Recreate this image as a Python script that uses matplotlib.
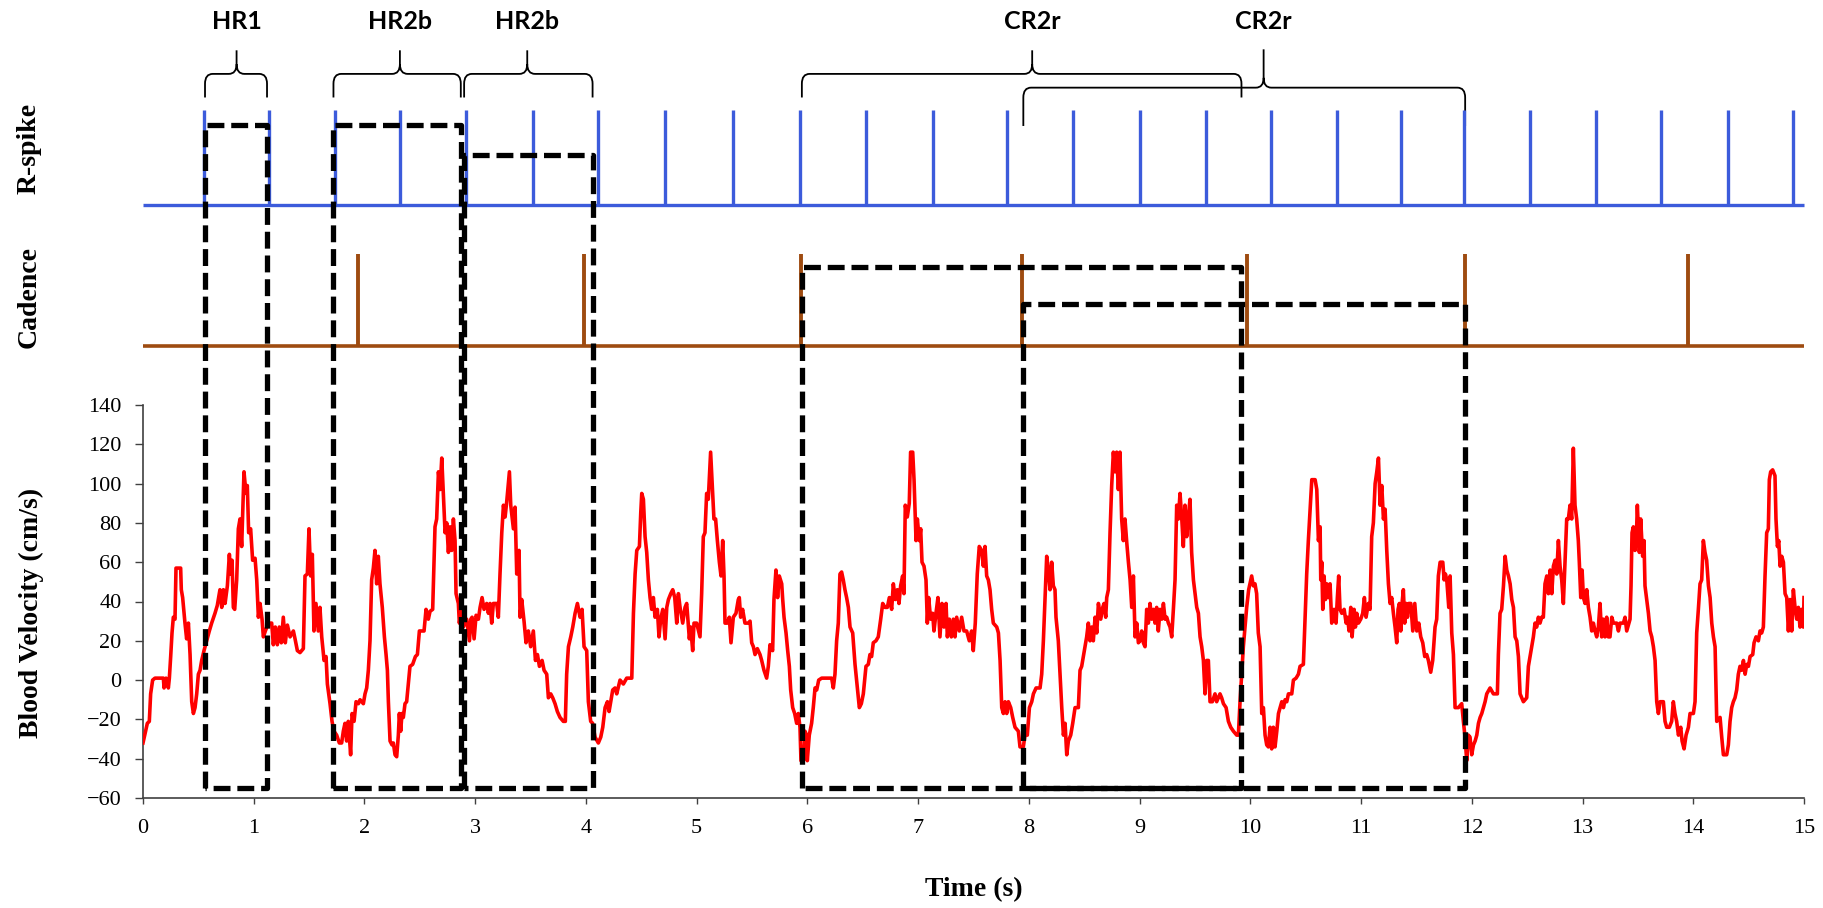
import matplotlib.pyplot as plt
from matplotlib.path import Path
from matplotlib.patches import PathPatch
import numpy as np

plt.rcParams['font.family'] = ['Liberation Serif', 'DejaVu Serif']

# blood velocity (cm/s), in six pieces
t_a = [0.000, 0.039, 0.057, 0.069, 0.087, 0.108, 0.184, 0.190, 0.208, 0.229, 0.238, 0.250, 0.262, 0.274, 0.289,
       0.298, 0.340, 0.346, 0.358, 0.379, 0.394, 0.410, 0.425, 0.440, 0.455, 0.470, 0.485, 0.500, 0.515, 0.530,
       0.551, 0.575, 0.599, 0.620, 0.650, 0.671, 0.695, 0.711, 0.726, 0.741, 0.762, 0.780, 0.792, 0.804, 0.816,
       0.828, 0.846, 0.861, 0.876, 0.891, 0.912, 0.930, 0.942, 0.954, 0.972, 0.990, 1.012, 1.027, 1.042, 1.057,
       1.075, 1.087, 1.105, 1.132, 1.162, 1.177, 1.195, 1.213, 1.231, 1.249, 1.267, 1.285, 1.304, 1.328, 1.358,
       1.373, 1.394, 1.418, 1.448, 1.463, 1.484, 1.499, 1.514, 1.529, 1.544, 1.562, 1.583, 1.598, 1.614, 1.635,
       1.653, 1.665, 1.689, 1.707, 1.725, 1.749, 1.773, 1.794, 1.809, 1.824, 1.839, 1.854, 1.875, 1.888, 1.906,
       1.924, 1.945, 1.960, 1.990, 2.005, 2.020, 2.035, 2.050, 2.065, 2.080, 2.095, 2.110, 2.125, 2.140, 2.161,
       2.180, 2.195, 2.207, 2.216, 2.231, 2.249, 2.261, 2.276, 2.291, 2.306, 2.315, 2.327, 2.339, 2.351, 2.366,
       2.381, 2.396, 2.411, 2.435, 2.460, 2.478, 2.496]
v_a = [-32, -22, -21, -7, 0, 1, 1, -4, 1, -4, 1, 12, 24, 32, 31,
       57, 57, 46, 42, 29, 21, 29, 13, -11, -17, -14, -7, 3, 5, 10,
       15, 20, 25, 29, 34, 38, 46, 37, 46, 39, 48, 64, 54, 61, 37,
       36, 51, 77, 82, 68, 106, 95, 99, 75, 77, 61, 62, 51, 32, 39,
       31, 22, 25, 29, 29, 18, 27, 18, 27, 19, 32, 19, 28, 22, 25,
       21, 15, 14, 16, 53, 54, 77, 53, 64, 25, 39, 25, 37, 22, 10,
       12, -2, -12, -21, -26, -28, -32, -32, -26, -22, -31, -21, -38, -17, -21,
       -11, -12, -10, -12, -7, -4, 5, 20, 51, 57, 66, 49, 63, 49, 37,
       22, 13, 5, -11, -31, -33, -32, -38, -39, -28, -17, -26, -17, -19, -12,
       -11, -2, 7, 8, 12, 13, 25]

t_b = [2.517, 2.538, 2.556, 2.577, 2.592, 2.616, 2.622, 2.637, 2.652, 2.668, 2.683, 2.698, 2.713, 2.728, 2.743,
       2.758, 2.773, 2.788, 2.803, 2.818, 2.827, 2.848, 2.857, 2.878, 2.893, 2.923, 2.948, 2.960, 2.972, 2.990,
       3.008, 3.029, 3.044, 3.062, 3.080, 3.104, 3.119, 3.134, 3.149, 3.164, 3.194, 3.209, 3.224, 3.240, 3.255,
       3.270, 3.285, 3.309, 3.321, 3.333, 3.345, 3.360, 3.375, 3.396, 3.405, 3.420, 3.441, 3.459, 3.480, 3.501,
       3.525, 3.544, 3.562, 3.580, 3.604, 3.622, 3.646, 3.661, 3.682, 3.700, 3.721, 3.742, 3.766, 3.796, 3.814,
       3.826, 3.842, 3.863, 3.881, 3.902, 3.923, 3.947, 3.965, 3.983, 4.007, 4.022, 4.043, 4.061, 4.082, 4.112,
       4.134, 4.152, 4.173, 4.194, 4.209, 4.224, 4.242, 4.263, 4.278, 4.308, 4.338, 4.368, 4.414, 4.429, 4.444,
       4.459, 4.483, 4.495, 4.504, 4.519, 4.534, 4.549, 4.564, 4.579, 4.594, 4.609, 4.624, 4.645, 4.660, 4.675,
       4.694, 4.715, 4.730, 4.745, 4.766, 4.784, 4.802, 4.820, 4.835, 4.850, 4.874, 4.895, 4.910, 4.934, 4.946,
       4.964, 4.976, 5.000]
v_b = [25, 25, 36, 31, 35, 36, 48, 78, 82, 106, 97, 113, 94, 75, 80,
       65, 78, 66, 82, 71, 44, 39, 29, 37, 27, 31, 20, 31, 32, 21,
       33, 31, 37, 42, 36, 39, 34, 39, 29, 39, 39, 32, 54, 75, 89,
       83, 91, 106, 89, 83, 77, 88, 54, 66, 32, 41, 30, 19, 25, 17,
       25, 10, 13, 7, 10, 5, 3, -9, -7, -9, -12, -16, -19, -21, -21,
       3, 17, 22, 27, 34, 39, 32, 36, 17, 15, -11, -21, -22, -29, -32,
       -29, -24, -14, -11, -16, -11, -5, -4, -7, 0, -2, 1, 1, 34, 54,
       66, 68, 85, 95, 92, 73, 65, 51, 42, 36, 42, 32, 36, 22, 31,
       36, 21, 37, 41, 44, 46, 42, 29, 44, 37, 29, 37, 39, 21, 27,
       15, 29, 29]

t_c = [5.030, 5.045, 5.060, 5.075, 5.090, 5.105, 5.126, 5.141, 5.156, 5.171, 5.187, 5.205, 5.220, 5.235, 5.247,
       5.256, 5.277, 5.295, 5.310, 5.331, 5.355, 5.376, 5.385, 5.397, 5.415, 5.436, 5.466, 5.482, 5.497, 5.512,
       5.527, 5.548, 5.572, 5.587, 5.608, 5.632, 5.647, 5.662, 5.686, 5.698, 5.716, 5.731, 5.746, 5.768, 5.777,
       5.789, 5.807, 5.822, 5.837, 5.849, 5.867, 5.885, 5.903, 5.918, 5.933, 5.942, 5.963, 5.978, 5.993, 5.999,
       6.017, 6.038, 6.053, 6.069, 6.084, 6.102, 6.129, 6.219, 6.234, 6.249, 6.264, 6.279, 6.294, 6.309, 6.324,
       6.339, 6.354, 6.370, 6.385, 6.409, 6.430, 6.451, 6.469, 6.487, 6.505, 6.529, 6.550, 6.565, 6.580, 6.595,
       6.619, 6.640, 6.662, 6.680, 6.701, 6.722, 6.740, 6.761, 6.776, 6.794, 6.812, 6.827, 6.842, 6.860, 6.872,
       6.884, 6.902, 6.920, 6.932, 6.951, 6.963, 6.981, 6.993, 7.011, 7.023, 7.035, 7.053, 7.071, 7.083, 7.095,
       7.113, 7.131, 7.143, 7.161, 7.179, 7.197, 7.215, 7.233, 7.252, 7.264, 7.282, 7.300, 7.318, 7.333, 7.348,
       7.372, 7.393, 7.414, 7.438, 7.462, 7.483, 7.498, 7.516, 7.534, 7.552]
v_c = [22, 44, 73, 75, 95, 92, 116, 99, 82, 82, 71, 60, 53, 71, 53,
       29, 29, 32, 19, 32, 34, 41, 42, 32, 36, 29, 29, 30, 19, 17,
       13, 16, 13, 10, 5, 1, 7, 18, 15, 41, 56, 42, 53, 49, 41,
       32, 24, 15, 7, -5, -14, -17, -22, -17, -24, -41, -41, -26, -28, -41,
       -28, -22, -14, -4, -5, 0, 1, 1, -4, 3, 20, 29, 54, 55, 51,
       46, 42, 37, 27, 24, 8, -4, -14, -12, -7, 7, 8, 13, 12, 19,
       20, 22, 31, 39, 37, 37, 42, 36, 49, 41, 46, 39, 48, 53, 44,
       89, 83, 90, 116, 116, 102, 71, 82, 71, 77, 60, 58, 51, 29, 42,
       31, 34, 25, 34, 42, 22, 39, 27, 39, 22, 31, 22, 31, 22, 32,
       25, 32, 25, 25, 20, 25, 15, 29, 54, 68]

t_d = [7.574, 7.589, 7.604, 7.619, 7.634, 7.649, 7.664, 7.679, 7.710, 7.725, 7.740, 7.755, 7.770, 7.785, 7.800,
       7.815, 7.836, 7.854, 7.875, 7.905, 7.920, 7.950, 7.965, 7.986, 8.005, 8.026, 8.041, 8.065, 8.101, 8.116,
       8.131, 8.146, 8.161, 8.176, 8.191, 8.206, 8.221, 8.236, 8.245, 8.266, 8.281, 8.297, 8.312, 8.327, 8.342,
       8.357, 8.378, 8.396, 8.417, 8.447, 8.462, 8.477, 8.492, 8.507, 8.522, 8.537, 8.552, 8.567, 8.582, 8.598,
       8.613, 8.628, 8.649, 8.667, 8.679, 8.694, 8.703, 8.718, 8.733, 8.748, 8.763, 8.778, 8.793, 8.808, 8.823,
       8.838, 8.853, 8.868, 8.884, 8.899, 8.914, 8.929, 8.944, 8.959, 8.974, 8.989, 9.004, 9.019, 9.034, 9.049,
       9.064, 9.079, 9.094, 9.109, 9.124, 9.139, 9.154, 9.169, 9.185, 9.200, 9.215, 9.230, 9.245, 9.260, 9.275,
       9.290, 9.305, 9.320, 9.335, 9.350, 9.365, 9.380, 9.395, 9.410, 9.425, 9.440, 9.455, 9.470, 9.486, 9.501,
       9.516, 9.531, 9.546, 9.561, 9.576, 9.591, 9.606, 9.621, 9.636, 9.657, 9.681, 9.696, 9.726, 9.741, 9.757,
       9.781, 9.802, 9.823, 9.847, 9.877, 9.892, 9.907, 9.922, 9.937, 9.952, 9.967, 9.985, 9.997, 10.012, 10.027,
       10.042, 10.057, 10.072]
v_d = [66, 58, 68, 53, 51, 46, 36, 29, 27, 24, 10, -14, -17, -11, -17,
       -11, -14, -19, -24, -26, -34, -34, -28, -28, -14, -11, -7, -4, -4, 3,
       20, 41, 63, 56, 46, 60, 48, 46, 32, 20, 3, -14, -28, -22, -38,
       -31, -28, -22, -14, -14, 5, 7, 12, 17, 22, 29, 20, 27, 20, 32,
       24, 39, 31, 37, 39, 32, 42, 46, 75, 99, 116, 106, 116, 97, 116,
       82, 71, 82, 70, 60, 51, 37, 53, 22, 29, 19, 20, 25, 19, 17,
       36, 29, 39, 31, 36, 29, 37, 25, 36, 31, 39, 31, 32, 29, 27,
       22, 36, 51, 89, 82, 95, 83, 68, 89, 73, 83, 92, 65, 51, 44,
       37, 34, 22, 17, 10, -7, 10, 10, -11, -11, -7, -11, -7, -9, -12,
       -14, -21, -24, -26, -28, -28, -11, 3, 17, 27, 37, 46, 49, 53, 48,
       49, 44, 24]

t_e = [10.088, 10.103, 10.118, 10.133, 10.148, 10.163, 10.178, 10.193, 10.208, 10.223, 10.239, 10.254, 10.269,
       10.284, 10.299, 10.314, 10.329, 10.344, 10.374, 10.389, 10.413, 10.434, 10.449, 10.479, 10.494, 10.509,
       10.524, 10.540, 10.555, 10.585, 10.600, 10.615, 10.630, 10.636, 10.645, 10.654, 10.666, 10.678, 10.690,
       10.705, 10.720, 10.735, 10.756, 10.774, 10.786, 10.798, 10.810, 10.826, 10.847, 10.865, 10.877, 10.892,
       10.907, 10.919, 10.937, 10.949, 10.961, 10.976, 10.997, 11.015, 11.030, 11.045, 11.066, 11.081, 11.096,
       11.111, 11.127, 11.142, 11.157, 11.172, 11.187, 11.202, 11.217, 11.232, 11.247, 11.262, 11.277, 11.292,
       11.307, 11.322, 11.334, 11.346, 11.358, 11.370, 11.382, 11.394, 11.407, 11.419, 11.431, 11.449, 11.467,
       11.485, 11.503, 11.521, 11.539, 11.557, 11.575, 11.593, 11.608, 11.629, 11.647, 11.668, 11.683, 11.698,
       11.714, 11.738, 11.750, 11.762, 11.774, 11.792, 11.804, 11.819, 11.834, 11.849, 11.879, 11.909, 11.924,
       11.939, 11.954, 11.969, 11.984, 11.999, 12.015, 12.030, 12.045, 12.060, 12.075, 12.090, 12.105, 12.120,
       12.135, 12.165, 12.195, 12.231, 12.240, 12.255, 12.270, 12.286, 12.301, 12.316, 12.331, 12.346, 12.361,
       12.376, 12.391, 12.406, 12.421, 12.436, 12.466, 12.496, 12.511]
v_e = [17, -17, -14, -28, -33, -34, -24, -35, -24, -34, -26, -17, -14,
       -11, -14, -10, -11, -7, -7, 0, 1, 3, 7, 8, 31, 54,
       71, 87, 102, 102, 97, 71, 78, 51, 60, 36, 53, 41, 49,
       42, 49, 29, 36, 29, 42, 53, 36, 34, 36, 29, 32, 25,
       37, 22, 36, 27, 34, 29, 31, 34, 42, 32, 39, 36, 73,
       80, 100, 106, 113, 89, 99, 82, 87, 66, 49, 39, 42, 34,
       27, 19, 36, 39, 25, 39, 46, 29, 39, 32, 39, 39, 25,
       39, 25, 29, 22, 19, 12, 13, 10, 4, 10, 27, 31, 53,
       60, 60, 51, 54, 51, 37, 53, 24, 13, -14, -14, -12, -21,
       -29, -41, -28, -29, -38, -33, -31, -28, -22, -19, -17, -14, -11,
       -7, -4, -7, -7, 13, 34, 36, 48, 63, 56, 53, 49, 41,
       37, 22, 20, 12, -7, -11, -9, 7]

t_f = [12.556, 12.571, 12.586, 12.601, 12.616, 12.631, 12.646, 12.661, 12.677, 12.692, 12.707, 12.722, 12.737,
       12.752, 12.767, 12.782, 12.797, 12.812, 12.827, 12.842, 12.857, 12.872, 12.887, 12.902, 12.917, 12.932,
       12.947, 12.962, 12.971, 12.984, 12.996, 13.008, 13.023, 13.038, 13.053, 13.068, 13.083, 13.098, 13.113,
       13.128, 13.143, 13.158, 13.173, 13.188, 13.203, 13.218, 13.233, 13.248, 13.264, 13.279, 13.309, 13.324,
       13.339, 13.369, 13.384, 13.399, 13.429, 13.438, 13.447, 13.459, 13.474, 13.489, 13.495, 13.513, 13.525,
       13.543, 13.555, 13.564, 13.580, 13.595, 13.610, 13.625, 13.640, 13.655, 13.670, 13.685, 13.700, 13.730,
       13.745, 13.760, 13.784, 13.805, 13.820, 13.835, 13.850, 13.866, 13.887, 13.899, 13.917, 13.935, 13.956,
       13.971, 14.001, 14.016, 14.031, 14.046, 14.061, 14.076, 14.091, 14.106, 14.121, 14.137, 14.152, 14.167,
       14.182, 14.197, 14.212, 14.242, 14.257, 14.272, 14.302, 14.317, 14.332, 14.347, 14.362, 14.377, 14.392,
       14.407, 14.422, 14.437, 14.453, 14.468, 14.483, 14.498, 14.513, 14.537, 14.549, 14.567, 14.588, 14.603,
       14.618, 14.633, 14.648, 14.663, 14.678, 14.687, 14.699, 14.717, 14.738, 14.747, 14.760, 14.772, 14.784,
       14.799, 14.814, 14.829, 14.844, 14.859, 14.874, 14.889, 14.904, 14.919, 14.934, 14.949, 14.964, 14.979,
       14.994, 15.000]
v_f = [22, 29, 27, 32, 29, 32, 32, 49, 53, 44, 56, 44, 58,
       61, 54, 71, 58, 51, 39, 61, 82, 82, 89, 82, 118, 89,
       82, 71, 60, 42, 56, 42, 39, 46, 37, 32, 25, 29, 25,
       22, 27, 39, 22, 31, 22, 32, 22, 22, 32, 29, 29, 25,
       29, 29, 32, 25, 31, 48, 75, 78, 66, 78, 89, 65, 82,
       63, 71, 48, 41, 34, 25, 22, 17, 10, -11, -17, -11, -11,
       -21, -24, -24, -21, -11, -17, -21, -28, -24, -31, -35, -28, -24,
       -17, -17, -11, 24, 36, 49, 51, 71, 65, 61, 48, 42, 29,
       22, 17, -21, -19, -29, -38, -38, -33, -21, -14, -11, -9, -5,
       3, 7, 5, 10, 3, 8, 7, 12, 13, 19, 22, 20, 25,
       24, 27, 53, 75, 77, 102, 106, 107, 104, 82, 68, 71, 58,
       63, 60, 44, 42, 25, 41, 25, 46, 37, 31, 37, 27, 36,
       27, 42]

time = np.concatenate([t_a, t_b, t_c, t_d, t_e, t_f])
velocity = np.concatenate([v_a, v_b, v_c, v_d, v_e, v_f])

r_spikes = [0.55, 1.14, 1.73, 2.32, 2.92, 3.52, 4.11, 4.71, 5.33, 5.93, 6.53, 7.13, 7.80,
            8.40, 9.00, 9.60, 10.19, 10.78, 11.36, 11.93, 12.53, 13.12, 13.71, 14.31, 14.90]
pedal_strokes = [1.94, 3.98, 5.94, 7.94, 9.97, 11.94, 13.95]

win_labels = ['HR1', 'HR2b', 'HR2b', 'CR2r', 'CR2r']
win_start = [0.56, 1.72, 2.90, 5.95, 7.95]
win_end = [1.12, 2.87, 4.06, 9.92, 11.94]
label_x = [0.845, 2.32, 3.47, 8.03, 10.12]

# layout of the strips above the velocity axes, in velocity units
RS_BASE, RS_TOP = 242, 290
CAD_BASE, CAD_TOP = 170, 217
BOX_BOTTOM = -55
box_top = [282.5, 282.5, 267, 210, 191.5]
brace_h = [308.5, 308.5, 308.5, 308.5, 301.5]
brace_tip = [296.5, 296.5, 296.5, 296.5, 282]
brace_apex = [320.5, 320.5, 320.5, 320.5, 321]
LABEL_Y = 335

W, H = 1824, 908
fig = plt.figure(figsize=(W / 100, H / 100), dpi=100)
ax = fig.add_axes([143 / W, 110 / H, 1661 / W, 393 / H])

ax.plot(time, velocity, color='#FF0000', lw=2.6, zorder=3)

ax.set_xlim(0, 15)
ax.set_ylim(-60, 140)
ax.set_xticks(range(0, 16))
ax.set_yticks(range(-60, 141, 20))
ax.spines['top'].set_visible(False)
ax.spines['right'].set_visible(False)
for s in ['left', 'bottom']:
    ax.spines[s].set_color('#404040')
    ax.spines[s].set_linewidth(1.2)
ax.tick_params(axis='x', direction='out', length=4, width=1, labelsize=16, pad=11, color='#404040')
ax.tick_params(axis='y', direction='out', length=5.5, width=1, labelsize=16, pad=10, color='#404040')

# R-spike and cadence strips
blue = '#3C5BDB'
brown = '#9E4B10'
ax.hlines(RS_BASE, 0, 15, color=blue, lw=2.4, clip_on=False, zorder=2)
ax.vlines(r_spikes, RS_BASE, RS_TOP, color=blue, lw=2.4, clip_on=False, zorder=2)
ax.hlines(CAD_BASE, 0, 15, color=brown, lw=2.6, clip_on=False, zorder=2)
ax.vlines(pedal_strokes, CAD_BASE, CAD_TOP, color=brown, lw=2.8, clip_on=False, zorder=2)

# dashed analysis windows
for i in range(len(win_start)):
    x0, x1, top = win_start[i], win_end[i], box_top[i]
    ax.plot([x0, x0, x1, x1, x0], [BOX_BOTTOM, top, top, BOX_BOTTOM, BOX_BOTTOM],
            color='black', lw=3.8, linestyle=(0, (3.2, 1.3)), clip_on=False, zorder=4)

# braces with labels
rx, ry = 0.07, 5
for i in range(len(win_labels)):
    xl, xr, xm = win_start[i], win_end[i], label_x[i]
    h, tip, apex = brace_h[i], brace_tip[i], brace_apex[i]
    verts = [(xl, tip), (xl, h - ry), (xl, h), (xl + rx, h), (xm - rx, h), (xm, h), (xm, h + ry), (xm, apex),
             (xm, h + ry), (xm, h), (xm + rx, h), (xr - rx, h), (xr, h), (xr, h - ry), (xr, tip)]
    codes = [Path.MOVETO, Path.LINETO, Path.CURVE3, Path.CURVE3, Path.LINETO, Path.CURVE3, Path.CURVE3, Path.LINETO,
             Path.MOVETO, Path.CURVE3, Path.CURVE3, Path.LINETO, Path.CURVE3, Path.CURVE3, Path.LINETO]
    ax.add_patch(PathPatch(Path(verts, codes), fill=False, lw=1.3, color='black', clip_on=False))
    ax.text(xm, LABEL_Y, win_labels[i], ha='center', va='center', fontsize=18, fontweight='bold',
            family=['Lato', 'DejaVu Sans'], clip_on=False)

fig.text(31 / W, 1 - 613 / H, 'Blood Velocity (cm/s)', rotation=90, ha='center', va='center',
         fontsize=20, fontweight='bold')
fig.text(29 / W, 1 - 148 / H, 'R-spike', rotation=90, ha='center', va='center', fontsize=20, fontweight='bold')
fig.text(29 / W, 1 - 297 / H, 'Cadence', rotation=90, ha='center', va='center', fontsize=20, fontweight='bold')
fig.text(973.5 / W, 1 - 890 / H, 'Time (s)', ha='center', va='center', fontsize=20, fontweight='bold')

fig.savefig('out.png', dpi=100)
